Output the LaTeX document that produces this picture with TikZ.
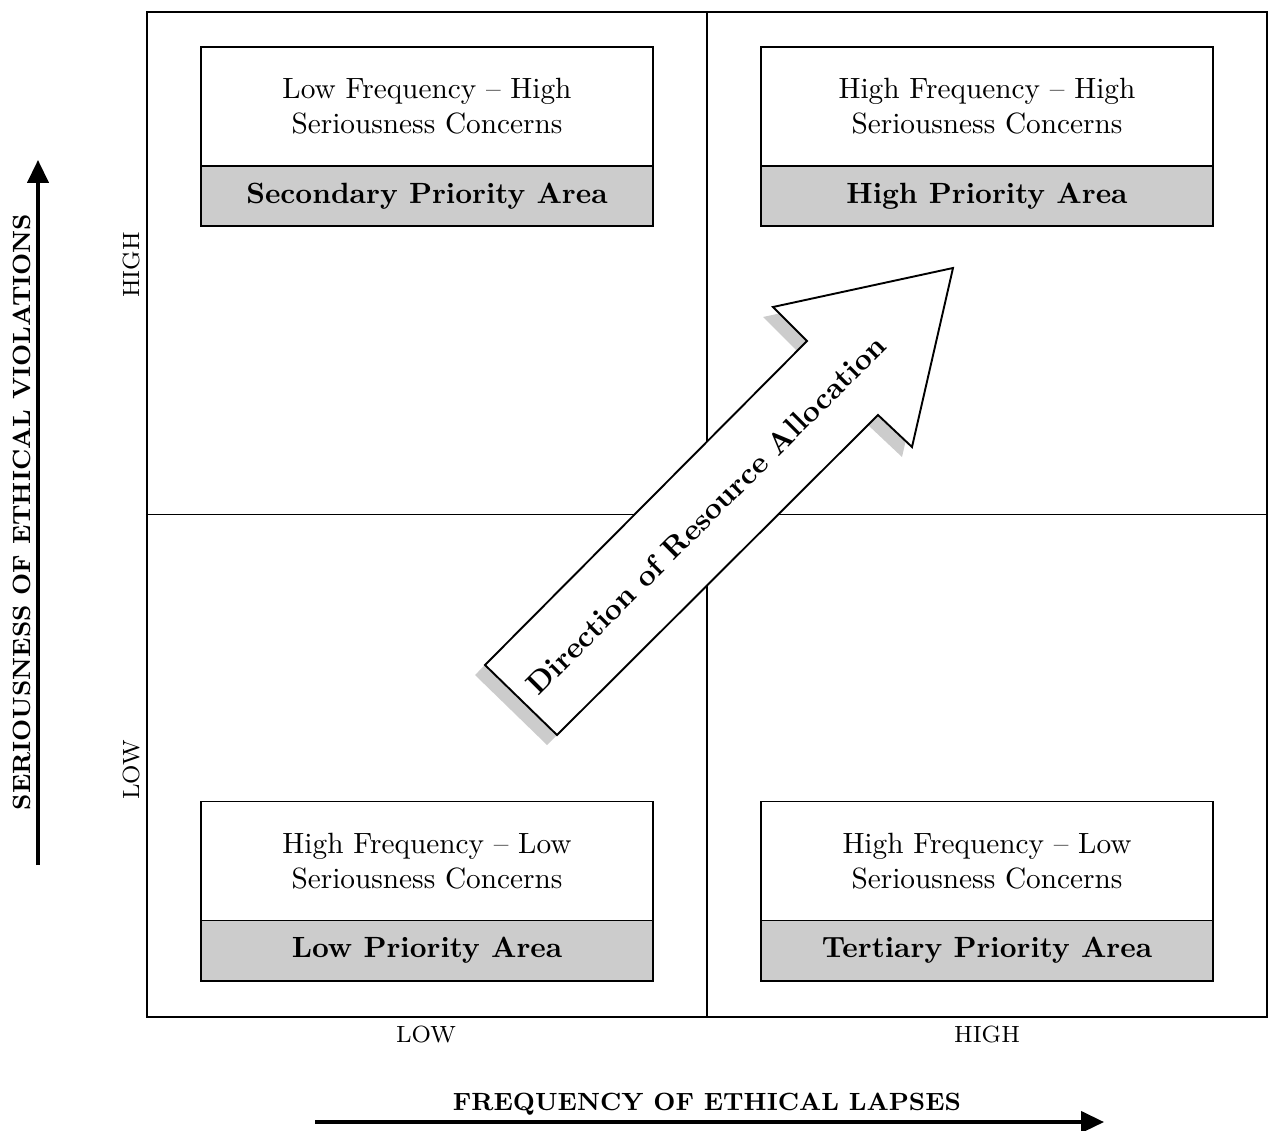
\documentclass[tikz,border=0pt]{standalone}
\usetikzlibrary{arrows.meta}
\definecolor{boxgray}{HTML}{CCCCCC}
\begin{document}
\begin{tikzpicture}[x=0.3413pt,y=-0.3413pt,
  thin line/.style={line width=0.65pt},
  upperbox/.style={draw, thin line, fill=white, minimum width=154.3pt, minimum height=40.6pt, inner sep=0pt, align=center, font=\fontsize{10}{12}\selectfont},
  lowerbox/.style={draw, thin line, fill=boxgray, minimum width=154.3pt, minimum height=20.5pt, inner sep=0pt, font=\fontsize{10}{12}\selectfont\bfseries},
  ticklabel/.style={font=\footnotesize, inner sep=1pt},
  axislabel/.style={font=\fontsize{8.5}{10}\selectfont\bfseries, inner sep=1pt},
  axisarrow/.style={line width=1.2pt, -{Triangle[length=7.8pt,width=7.2pt]}},
  bigarrow/.style={draw, line width=0.65pt, fill=white, line join=miter},
  shadowfill/.style={fill=boxgray, draw=none}
]
\useasboundingbox (0,0) rectangle (1269,1130);

% frame and dividers
\node[draw, thin line, minimum width=382.3pt, minimum height=343.0pt, inner sep=0pt] (frame) at (707,514.5) {};
\draw[thin line] (frame.north) -- (frame.south);
\draw[thin line] (frame.west) -- (frame.east);

% quadrant boxes
\node[upperbox] (tlt) at (427,106.5) {Low Frequency -- High\\Seriousness Concerns};
\node[lowerbox] (tlb) at (427,196) {Secondary Priority Area};
\node[upperbox] (trt) at (987,106.5) {High Frequency -- High\\Seriousness Concerns};
\node[lowerbox] (trb) at (987,196) {High Priority Area};
\node[upperbox] (blt) at (427,861) {High Frequency -- Low\\Seriousness Concerns};
\node[lowerbox] (blb) at (427,950.5) {Low Priority Area};
\node[upperbox] (brt) at (987,861) {High Frequency -- Low\\Seriousness Concerns};
\node[lowerbox] (brb) at (987,950.5) {Tertiary Priority Area};

% big arrow with shadow
\fill[shadowfill] (475,675) -- (547,745) -- (868,425) -- (902,457) -- (943,278) -- (763,317) -- (797,351) -- cycle;
\draw[bigarrow] (485,665) -- (557,735) -- (878,415) -- (912,447) -- (953,268) -- (773,307) -- (807,341) -- cycle;
\node[rotate=45, font=\fontsize{10.2}{12}\selectfont\bfseries, inner sep=0pt] (dir) at (706,515) {Direction of Resource Allocation};

% tick labels
\node[ticklabel] (xlow) at (426,1034) {LOW};
\node[ticklabel] (xhigh) at (987,1034) {HIGH};
\node[ticklabel, rotate=90] (yhigh) at (131,265) {HIGH};
\node[ticklabel, rotate=90] (ylow) at (131,770) {LOW};

% axes
\coordinate (ys) at (38,865);
\coordinate (ye) at (38,160);
\draw[axisarrow] (ys) -- (ye);
\node[axislabel, rotate=90] (ylab) at (22,512) {SERIOUSNESS OF ETHICAL VIOLATIONS};
\coordinate (xs) at (315,1122);
\coordinate (xe) at (1104,1122);
\draw[axisarrow] (xs) -- (xe);
\node[axislabel] (xlab) at (707,1104) {FREQUENCY OF ETHICAL LAPSES};
\end{tikzpicture}
\end{document}
